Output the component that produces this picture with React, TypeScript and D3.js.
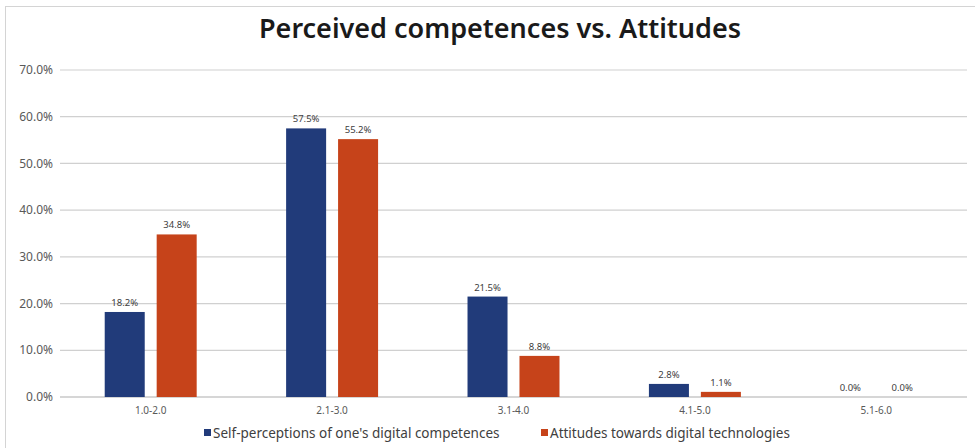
import React from "react";
import * as d3 from "d3";

const categories = ["1.0-2.0", "2.1-3.0", "3.1-4.0", "4.1-5.0", "5.1-6.0"];
const seriesNames = [
  "Self-perceptions of one's digital competences",
  "Attitudes towards digital technologies",
];
const selfPerceptions = [18.2, 57.5, 21.5, 2.8, 0.0];
const attitudes = [34.8, 55.2, 8.8, 1.1, 0.0];
const yTicks = [0, 10, 20, 30, 40, 50, 60, 70];
const colors = ["#213b7a", "#c6431a"];

const W = 975;
const H = 448;
const plot = { left: 60, right: 967, top: 70, bottom: 397 };
const FONT = "'Noto Sans', 'Open Sans', sans-serif";

export default function App() {
  const series = [selfPerceptions, attitudes];

  const x0 = d3
    .scaleBand<string>()
    .domain(categories)
    .range([plot.left, plot.right])
    .paddingInner(0.493)
    .paddingOuter(0.2465);

  const x1 = d3
    .scaleBand<number>()
    .domain([0, 1])
    .range([0, x0.bandwidth()])
    .paddingInner(0.23)
    .paddingOuter(0);

  const y = d3.scaleLinear().domain([0, 70]).range([plot.bottom, plot.top]);

  const legendX = [204, 541];

  return (
    <svg
      width={W}
      height={H}
      style={{ position: "absolute", left: 0, top: 0, background: "#fff" }}
      fontFamily={FONT}
    >
      <rect x={5.5} y={6.5} width={1000} height={500} fill="#fff" stroke="#d4d4d4" />

      <text
        x={500}
        y={38}
        textAnchor="middle"
        fontSize={27}
        fontWeight={600}
        fill="#1a1a1a"
      >
        Perceived competences vs. Attitudes
      </text>

      {yTicks.map((t) => (
        <g key={t}>
          <line
            x1={plot.left}
            x2={plot.right}
            y1={y(t)}
            y2={y(t)}
            stroke={t === 0 ? "#c8c8c8" : "#d0d0d0"}
            strokeWidth={t === 0 ? 1.5 : 1.2}
          />
          <text
            x={53}
            y={y(t)}
            dy="0.35em"
            textAnchor="end"
            fontSize={12}
            fill="#595959"
          >
            {d3.format(".1f")(t) + "%"}
          </text>
        </g>
      ))}

      {categories.map((c, i) => (
        <g key={c} transform={`translate(${x0(c)},0)`}>
          {series.map((vals, s) => {
            const v = vals[i];
            const bx = x1(s)!;
            const bw = x1.bandwidth();
            return (
              <g key={s}>
                <rect
                  x={bx}
                  y={y(v)}
                  width={bw}
                  height={plot.bottom - y(v)}
                  fill={colors[s]}
                />
                <text
                  x={bx + bw / 2}
                  y={y(v) - 6}
                  textAnchor="middle"
                  fontSize={9.5}
                  fill="#404040"
                >
                  {d3.format(".1f")(v) + "%"}
                </text>
              </g>
            );
          })}
          <text
            x={x0.bandwidth() / 2}
            y={plot.bottom + 17}
            textAnchor="middle"
            fontSize={10}
            fill="#595959"
          >
            {c}
          </text>
        </g>
      ))}

      {seriesNames.map((name, s) => (
        <g key={name} transform={`translate(${legendX[s]},433)`}>
          <rect x={0} y={-4} width={7} height={7} fill={colors[s]} />
          <text x={9} y={0} dy="0.35em" fontSize={13.5} fill="#404040">
            {name}
          </text>
        </g>
      ))}
    </svg>
  );
}
